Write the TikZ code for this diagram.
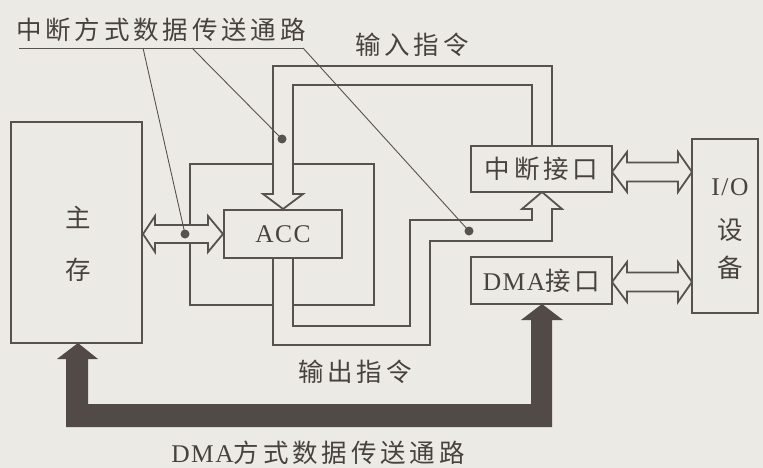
\documentclass[tikz,border=0pt]{standalone}
\usepackage{fontspec}
\setmainfont[LetterSpace=6]{Liberation Serif}
\newfontfamily\cjk[LetterSpace=15]{Noto Sans CJK SC}
\definecolor{bg}{RGB}{236,234,229}
\definecolor{lc}{RGB}{88,82,78}
\definecolor{tc}{RGB}{72,66,62}
\definecolor{dk}{RGB}{82,74,70}
\begin{document}
\begin{tikzpicture}[x=1pt,y=-1pt,
  ln/.style={draw=lc, line width=1.8pt, line join=miter},
  box/.style={ln, fill=bg, inner sep=0pt, text=tc, font=\fontsize{25.5}{27}\selectfont},
  lbl/.style={text=tc, inner sep=0pt, font=\fontsize{25.5}{27}\selectfont},
  leader/.style={draw=lc, line width=0.9pt},
  dotmark/.style={circle, fill=lc, draw=none, inner sep=0pt, minimum size=9pt}]
\fill[bg] (0,0) rectangle (763,468);
\useasboundingbox (0,0) rectangle (763,468);

% CPU frame around ACC
\draw[ln] (190,164) rectangle (374,305);

% input channel (from interrupt interface to ACC)
\fill[bg] (552,146) -- (552,66) -- (273,66) -- (273,194) -- (263,194) -- (283,209)
  -- (303,194) -- (293,194) -- (293,85) -- (532,85) -- (532,146) -- cycle;
\draw[ln] (552,146) -- (552,66) -- (273,66) -- (273,194) -- (263,194) -- (283,209)
  -- (303,194) -- (293,194) -- (293,85) -- (532,85) -- (532,146);

% output channel (from ACC to interrupt interface)
\fill[bg] (293,258) -- (293,326) -- (410,326) -- (410,220) -- (532,220) -- (532,209)
  -- (522,209) -- (542,192) -- (562,209) -- (552,209) -- (552,241) -- (430,241)
  -- (430,345) -- (273,345) -- (273,258) -- cycle;
\draw[ln] (293,258) -- (293,326) -- (410,326) -- (410,220) -- (532,220) -- (532,209)
  -- (522,209) -- (542,192) -- (562,209) -- (552,209) -- (552,241) -- (430,241)
  -- (430,345) -- (273,345) -- (273,258);

% double arrow memory <-> ACC
\draw[ln, fill=bg] (143,234) -- (155,216) -- (155,225) -- (208,225) -- (208,216)
  -- (223,234) -- (208,252) -- (208,243) -- (155,243) -- (155,252) -- cycle;

% double arrows interfaces <-> I/O
\draw[ln, fill=bg] (612,172) -- (627,152) -- (627,162.5) -- (678,162.5) -- (678,152)
  -- (692,172) -- (678,192) -- (678,181.5) -- (627,181.5) -- (627,192) -- cycle;
\draw[ln, fill=bg] (612,282) -- (627,262) -- (627,272.5) -- (678,272.5) -- (678,262)
  -- (692,282) -- (678,302) -- (678,291.5) -- (627,291.5) -- (627,302) -- cycle;

% DMA thick path
\fill[dk] (78,343) -- (98,359) -- (88,359) -- (88,404) -- (531,404) -- (531,320)
  -- (521,320) -- (542,304) -- (563,320) -- (552,320) -- (552,427) -- (66,427)
  -- (66,359) -- (57,359) -- cycle;

% boxes
\node[box, minimum width=131pt, minimum height=221pt] (mem) at (76.5,232.5) {};
\node[box, minimum width=118pt, minimum height=48pt] (acc) at (283,234) {ACC};
\node[box, minimum width=141pt, minimum height=46pt] (intif) at (541.5,169) {\cjk 中断接口};
\node[box, minimum width=141pt, minimum height=47pt] (dmaif) at (541.5,280.5) {DMA\cjk 接口};
\node[box, minimum width=66pt, minimum height=174pt] (io) at (725,226) {};
\node[lbl] (zhu) at (78,217) {\cjk 主};
\node[lbl] (cun) at (78,270) {\cjk 存};
\node[lbl] (iot) at (730,187) {I/O};
\node[lbl] (she) at (730,230) {\cjk 设};
\node[lbl] (bei) at (730,268) {\cjk 备};

% labels
\node[lbl] (ttl) at (161,30) {\cjk 中断方式数据传送通路};
\node[lbl] (inlbl) at (412,45) {\cjk 输入指令};
\node[lbl] (outlbl) at (355,372) {\cjk 输出指令};
\node[lbl] (dmalbl) at (318,453) {DMA\cjk 方式数据传送通路};

% leaders and dots
\coordinate (u1) at (19,48);
\coordinate (u2) at (303,48);
\coordinate (l1) at (143,48);
\coordinate (l2) at (192,48);
\node[dotmark] (d1) at (185,234) {};
\node[dotmark] (d2) at (282,139) {};
\node[dotmark] (d3) at (469,231) {};
\draw[leader] (u1) -- (u2);
\draw[leader] (l1) -- (d1.center);
\draw[leader] (l2) -- (d2.center);
\draw[leader] (u2) -- (d3.center);
\end{tikzpicture}
\end{document}
